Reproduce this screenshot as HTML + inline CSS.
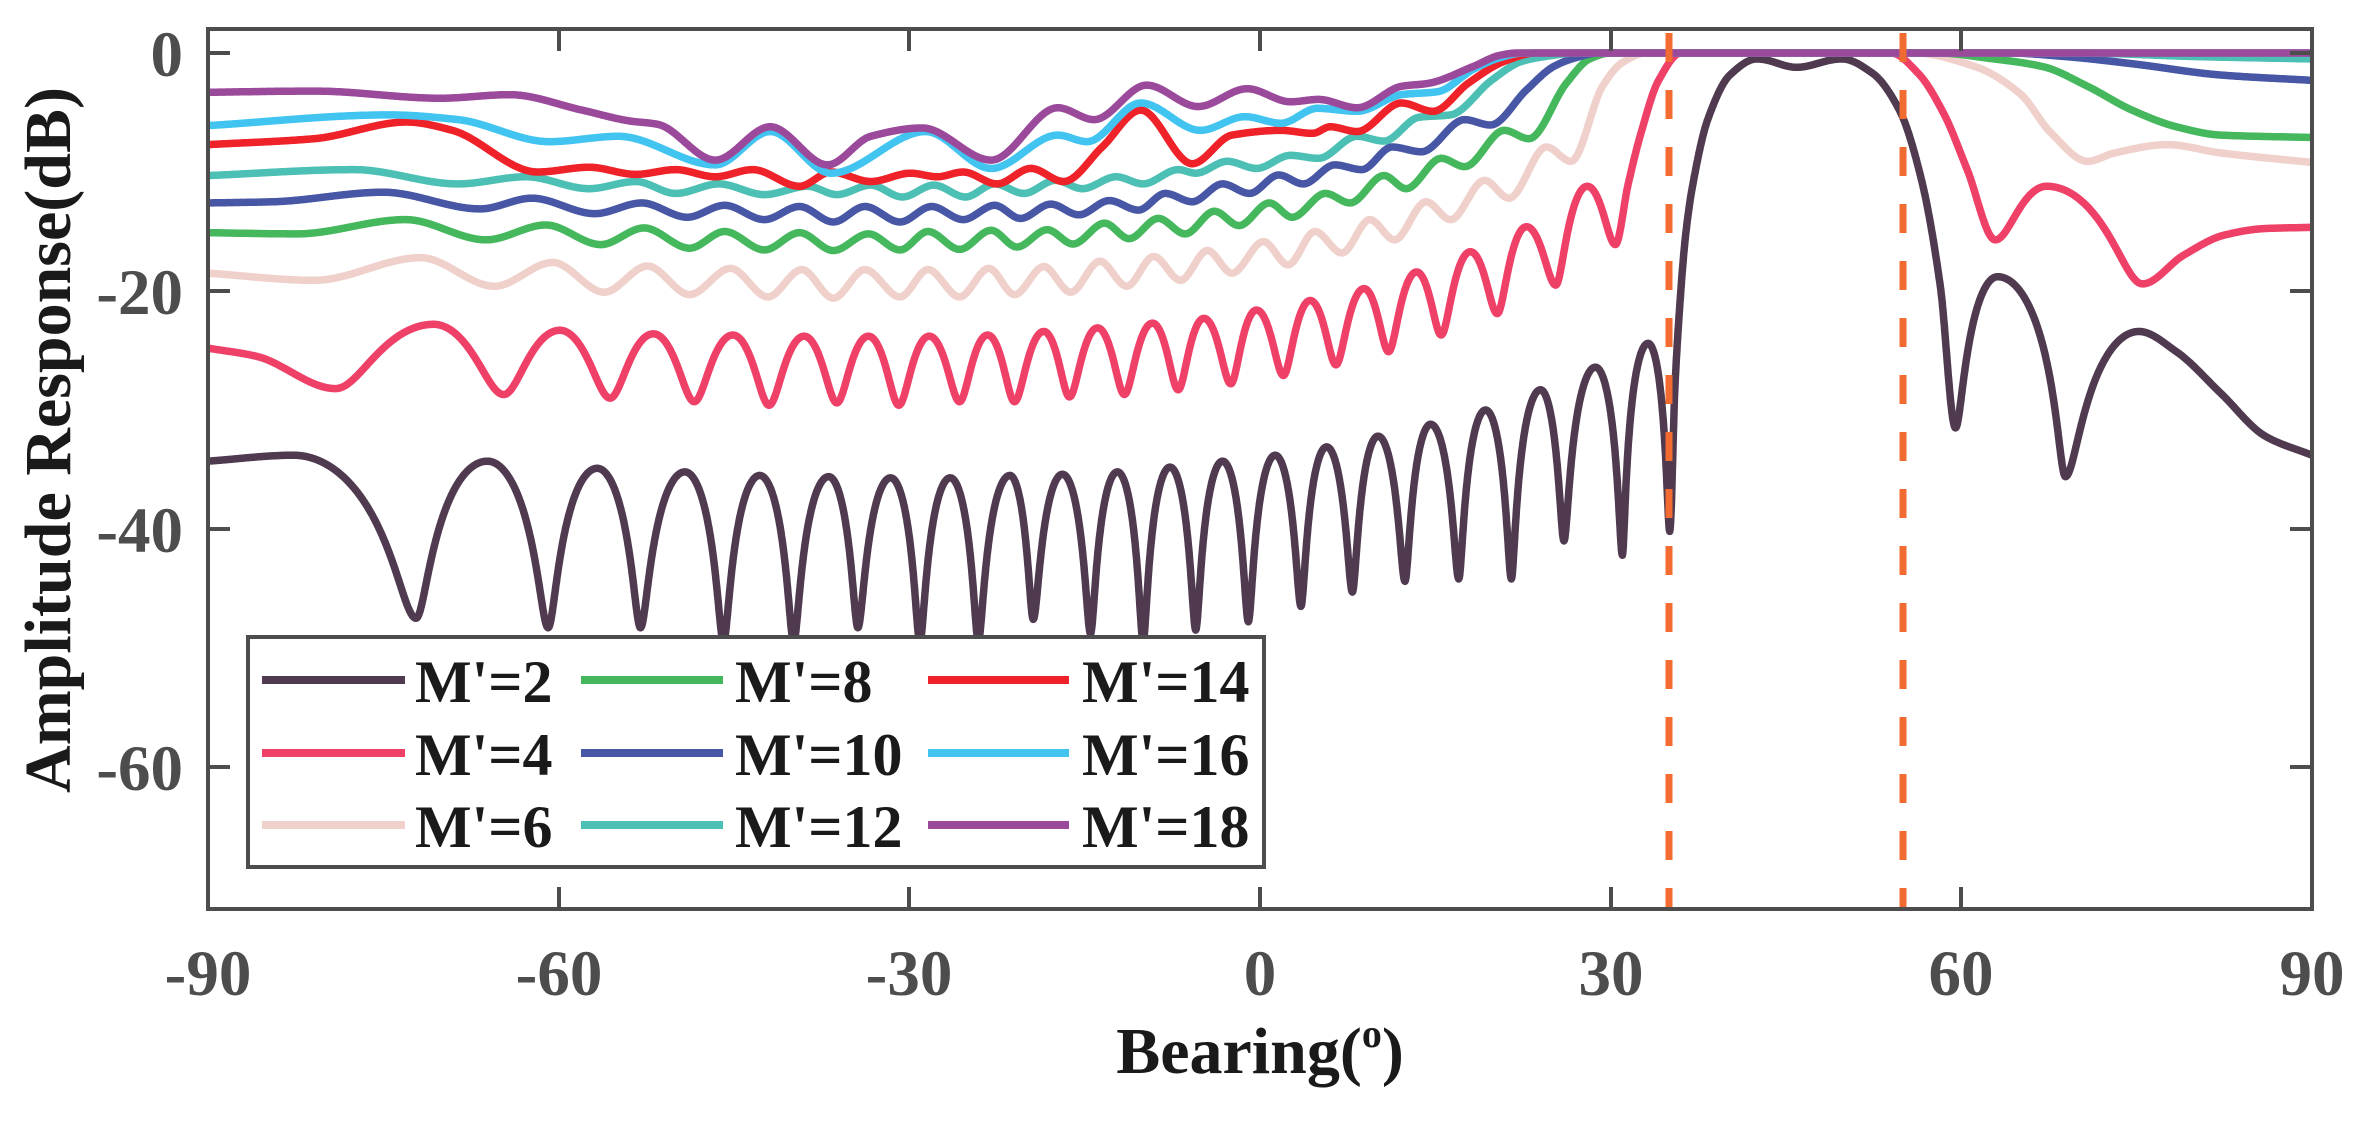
<!DOCTYPE html>
<html><head><meta charset="utf-8"><style>
html,body{margin:0;padding:0;background:#fff;}
svg{display:block;}
</style></head><body>
<svg id="s" width="2379" height="1130" viewBox="0 0 2379 1130" xmlns="http://www.w3.org/2000/svg">
<rect width="2379" height="1130" fill="#fff"/>
<defs><clipPath id="cp"><rect x="208" y="29" width="2104" height="880"/></clipPath></defs>
<g id="curves" clip-path="url(#cp)"></g>
<g stroke="#f26b30" stroke-width="7" stroke-dasharray="29 28">
<line x1="1669" y1="33" x2="1669" y2="909"/>
<line x1="1903" y1="33" x2="1903" y2="909"/>
</g>
<g fill="none" stroke="#4d4d4d" stroke-width="4">
<rect x="208" y="29" width="2104" height="880"/>
<path d="M208 53h22M208 291h22M208 529h22M208 767h22M2312 53h-22M2312 291h-22M2312 529h-22M2312 767h-22"/>
<path d="M208 909v-22M559 909v-22M909 909v-22M1260 909v-22M1611 909v-22M1961 909v-22M2312 909v-22M208 29v22M559 29v22M909 29v22M1260 29v22M1611 29v22M1961 29v22M2312 29v22"/>
</g>
<g font-family="Liberation Serif, serif" font-weight="bold" font-size="65" fill="#4d4d4d">
<g text-anchor="end">
<text x="183" y="76">0</text>
<text x="183" y="314">-20</text>
<text x="183" y="552">-40</text>
<text x="183" y="790">-60</text>
</g>
<g text-anchor="middle">
<text x="208" y="995">-90</text>
<text x="559" y="995">-60</text>
<text x="909" y="995">-30</text>
<text x="1260" y="995">0</text>
<text x="1611" y="995">30</text>
<text x="1961" y="995">60</text>
<text x="2312" y="995">90</text>
</g>
</g>
<text x="1260" y="1073" text-anchor="middle" font-family="Liberation Serif, serif" font-weight="bold" font-size="66" fill="#1a1a1a">Bearing(<tspan font-size="40" dy="-26">o</tspan><tspan dy="26">)</tspan></text>
<text transform="translate(70,440) rotate(-90)" text-anchor="middle" font-family="Liberation Serif, serif" font-weight="bold" font-size="66" fill="#1a1a1a">Amplitude Response(dB)</text>
<g id="legend">
<rect x="248" y="637" width="1016" height="230" fill="#fff" stroke="#4d4d4d" stroke-width="4"/>
<g stroke-width="8">
<line x1="262" y1="680" x2="405" y2="680" stroke="#503a50"/>
<line x1="262" y1="753" x2="405" y2="753" stroke="#ef4068"/>
<line x1="262" y1="825" x2="405" y2="825" stroke="#f0d0cb"/>
<line x1="581" y1="680" x2="723" y2="680" stroke="#45b85e"/>
<line x1="581" y1="753" x2="723" y2="753" stroke="#4757a5"/>
<line x1="581" y1="825" x2="723" y2="825" stroke="#4cc0b5"/>
<line x1="928" y1="680" x2="1069" y2="680" stroke="#ee2228"/>
<line x1="928" y1="753" x2="1069" y2="753" stroke="#41c4f0"/>
<line x1="928" y1="825" x2="1069" y2="825" stroke="#9b4a9b"/>
</g>
<g font-family="Liberation Serif, serif" font-weight="bold" font-size="60" fill="#1a1a1a">
<text x="415" y="702">M'=2</text>
<text x="415" y="775">M'=4</text>
<text x="415" y="847">M'=6</text>
<text x="735" y="702">M'=8</text>
<text x="735" y="775">M'=10</text>
<text x="735" y="847">M'=12</text>
<text x="1082" y="702">M'=14</text>
<text x="1082" y="775">M'=16</text>
<text x="1082" y="847">M'=18</text>
</g>
</g>
</svg>
<script>
(function(){
function X(d){return 208+(d+90)*11.689;}
function Y(v){return 53-v*11.9;}
function parse(s){return s.trim().split(/\s+/).map(function(t){var ty=t[0];var a=t.slice(2,-1).split(',');return [parseFloat(a[0]),parseFloat(a[1]),ty];});}
function build(pts,sharp){
  var n=pts.length,m=[];
  for(var i=0;i<n;i++){
    var t=pts[i][2];
    if(t==='p'||t==='n'){m.push(0);continue;}
    var dl=i>0?(pts[i][1]-pts[i-1][1])/(pts[i][0]-pts[i-1][0]):null;
    var dr=i<n-1?(pts[i+1][1]-pts[i][1])/(pts[i+1][0]-pts[i][0]):null;
    if(dl===null)m.push(dr);else if(dr===null)m.push(dl);
    else if(dl*dr<=0)m.push(0);else m.push(2/(1/dl+1/dr));
  }
  var out=[];
  for(var i=0;i<n-1;i++){
    var a=pts[i],b=pts[i+1],h=b[0]-a[0];
    var steps=Math.max(2,Math.ceil(h/0.04));
    var lobe=sharp&&((a[2]==='p'&&b[2]==='n')||(a[2]==='n'&&b[2]==='p'));
    for(var k=(i===0?0:1);k<=steps;k++){
      var s=k/steps,x=a[0]+h*s,v;
      if(lobe){
        var P,N,t;
        if(a[2]==='p'){P=a[1];N=b[1];t=s;}else{P=b[1];N=a[1];t=1-s;}
        var r=Math.pow(10,(N-P)/10),f2=r/(1-r);
        var c=Math.cos(Math.PI*t/2);
        v=P+10*Math.log10((c*c+f2)/(1+f2));
      }else{
        var s2=s*s,s3=s2*s;
        v=(2*s3-3*s2+1)*a[1]+(s3-2*s2+s)*h*m[i]+(-2*s3+3*s2)*b[1]+(s3-s2)*h*m[i+1];
      }
      out.push(X(x).toFixed(1)+','+Y(v).toFixed(1));
    }
  }
  return 'M'+out.join('L');
}
var S=[
['#503a50',true,"k(-90,-34.3) p(-82.7,-33.8) n(-72.2,-47.5) p(-66.1,-34.3) n(-60.9,-48.3) p(-56.7,-34.9) n(-53,-48.3) p(-49.2,-35.2) n(-45.9,-49.5) p(-42.8,-35.5) n(-39.9,-49.5) p(-36.9,-35.6) n(-34.4,-48.3) p(-31.6,-35.7) n(-29.1,-49.5) p(-26.5,-35.7) n(-24.1,-49.4) p(-21.4,-35.5) n(-19.4,-47.6) p(-16.9,-35.4) n(-14.5,-48.8) p(-12.2,-35.2) n(-10,-49.4) p(-7.7,-34.8) n(-5.5,-48.5) p(-3.2,-34.3) n(-1,-47.8) p(1.3,-33.8) n(3.5,-46.5) p(5.7,-33.1) n(7.9,-45.3) p(10.1,-32.2) n(12.4,-44.4) p(14.6,-31.2) n(17,-44.2) p(19.3,-30) n(21.5,-44.2) p(24,-28.3) n(26,-41) p(28.7,-26.4) n(31,-42.2) p(33.2,-24.4) n(35.05,-40.2) k(35.5,-28) k(36,-20) k(36.4,-15.4) k(37,-11.2) k(38.3,-5.6) k(40.2,-1.85) p(42.5,-0.5) n(45.9,-1.2) p(49.8,-0.5) k(52.4,-1.7) k(54.7,-4.8) k(56.6,-10.7) k(58.2,-19.6) n(59.5,-31.5) p(63.1,-18.8) n(68.9,-35.6) p(75.2,-23.4) k(78.4,-25.1) k(82.2,-28.6) k(86,-32.2) k(90,-33.8)"],
['#ef4068',true,"k(-90,-24.8) k(-85.8,-25.5) n(-79.1,-28.2) p(-70.7,-22.8) n(-64.7,-28.7) p(-59.9,-23.3) n(-55.6,-29) p(-51.9,-23.6) n(-48.4,-29.3) p(-45.1,-23.7) n(-42,-29.6) p(-39,-23.8) n(-36.2,-29.4) p(-33.5,-23.8) n(-30.9,-29.6) p(-28.3,-23.8) n(-25.7,-29.3) p(-23.3,-23.7) n(-21,-29.3) p(-18.5,-23.4) n(-16.3,-28.9) p(-13.9,-23.1) n(-11.6,-28.7) p(-9.2,-22.7) n(-7,-28.3) p(-4.8,-22.3) n(-2.5,-27.8) p(-0.3,-21.6) n(2,-27.1) p(4.3,-20.8) n(6.5,-26.2) p(8.9,-19.8) n(11,-25.1) p(13.4,-18.4) n(15.5,-23.7) p(18,-16.7) n(20.3,-21.9) p(22.8,-14.6) n(25.3,-19.5) p(28,-11.2) n(30.4,-16.1) k(31.5,-11) k(32.6,-6.7) k(34.1,-2.3) p(36,0) p(54,0) k(56.3,-1.7) k(58.5,-5.1) k(60.5,-9.8) n(62.9,-15.7) p(67.3,-11.2) n(75.5,-19.4) k(79,-17) k(82.5,-15.3) k(86,-14.75) k(90,-14.65)"],
['#f0d0cb',false,"k(-90,-18.5) n(-80.9,-19.1) p(-71.8,-17.2) n(-65.5,-19.6) p(-60.5,-17.6) n(-56.1,-20.1) p(-52.4,-17.9) n(-48.8,-20.3) p(-45.3,-18.1) n(-42.1,-20.5) p(-39.2,-18.2) n(-36.5,-20.6) p(-33.8,-18.2) n(-30.8,-20.5) p(-28.4,-18.2) n(-25.7,-20.5) p(-23.2,-18.1) n(-21,-20.3) p(-18.5,-17.95) n(-16.2,-20.1) p(-13.7,-17.5) n(-11.4,-19.6) p(-9.1,-17.1) n(-6.8,-19.1) p(-4.5,-16.6) n(-2.4,-18.5) p(0.3,-15.85) n(2.4,-17.8) p(4.7,-15) n(7,-16.8) p(9.4,-14) n(11.5,-15.7) p(14.2,-12.5) n(16.3,-14.0) p(19.2,-10.7) n(21.3,-12.2) p(24.5,-7.9) n(26.6,-9.1) k(29.3,-2.8) k(31,-0.8) p(33,0) p(56,0) k(61.2,-1.15) k(65,-3.4) k(67.7,-6.75) n(70.8,-9.1) k(73.1,-8.4) p(77.6,-7.7) k(82.2,-8.4) k(90,-9.2)"],
['#45b85e',false,"k(-90,-15.1) n(-82.4,-15.2) p(-73.1,-14.0) n(-66.2,-15.7) p(-61.1,-14.45) n(-56.4,-16.1) p(-52.7,-14.7) n(-48.8,-16.4) p(-45.8,-15) n(-42.4,-16.55) p(-39.4,-15.1) n(-36.5,-16.6) p(-33.5,-15.2) n(-30.8,-16.55) p(-28.4,-15) n(-25.7,-16.5) p(-23,-14.9) n(-20.8,-16.3) p(-18.2,-14.85) n(-16,-16.05) p(-13.3,-14.3) n(-11.2,-15.6) p(-8.7,-13.9) n(-6.4,-15.2) p(-3.9,-13.3) n(-1.8,-14.5) p(0.8,-12.6) n(2.75,-13.8) p(5.6,-11.8) n(7.7,-12.6) p(10.6,-10.3) n(12.5,-11.4) p(15.5,-8.85) n(17.5,-9.55) p(20.9,-6.5) n(23,-7.2) k(26.2,-2.55) k(28.2,-0.5) p(30,0) p(58,0) k(62.4,-0.45) k(67,-1.15) k(70.8,-2.8) k(74.6,-4.8) k(78.4,-6.2) k(82.2,-6.9) k(90,-7.1)"],
['#4757a5',false,"k(-90,-12.6) k(-84.4,-12.5) p(-75,-11.7) n(-66.7,-13.1) p(-62.3,-12.2) n(-56.9,-13.5) p(-52.9,-12.6) n(-49,-13.8) p(-45.8,-12.8) n(-42.4,-14) p(-39.4,-12.9) n(-36.5,-14.2) p(-33.8,-12.9) n(-30.8,-14.2) p(-28.1,-12.9) n(-25.4,-14) p(-22.7,-12.8) n(-20.5,-13.9) p(-17.9,-12.7) n(-15.5,-13.6) p(-12.9,-12.4) n(-10.4,-13.2) p(-8.1,-11.8) n(-5.8,-12.5) p(-3.2,-11) n(-0.9,-11.8) p(1.6,-10.25) n(3.7,-11) p(6.4,-9.4) n(8.7,-9.8) p(11.3,-7.9) n(13.8,-8.3) p(17.5,-5.6) n(19.7,-6.05) k(22.8,-3.1) k(25.1,-1.15) k(27,-0.4) p(29,0) p(64,0) k(68.9,-0.3) k(74.6,-0.9) k(82.2,-1.85) k(90,-2.3)"],
['#4cc0b5',false,"k(-90,-10.3) p(-77.5,-9.8) n(-68.6,-11) p(-62.8,-10.4) n(-57.4,-11.4) p(-53.4,-10.8) n(-50,-11.8) p(-46.3,-11) n(-42.4,-11.9) p(-38.7,-11.2) n(-36.2,-11.9) p(-33.3,-11.1) n(-30.6,-12.1) p(-27.9,-11.1) n(-25.2,-12.1) p(-22.7,-11) n(-20.2,-11.8) p(-17.5,-10.7) n(-15.2,-11.4) p(-12.3,-10.4) n(-10,-11) p(-7,-9.8) n(-5.5,-10.1) p(-2.8,-9.1) n(-0.3,-9.7) p(2.6,-8.6) n(5,-8.85) p(8.3,-7.0) n(10.6,-7.4) k(13.6,-5.4) k(16.3,-5.2) k(19.8,-2.3) k(22.4,-0.7) k(24.7,-0.25) p(27,0) p(70,0) k(80,-0.3) k(90,-0.5)"],
['#ee2228',false,"k(-90,-7.7) k(-80.9,-7.2) p(-73,-5.8) k(-69.1,-6.5) n(-61.8,-10) p(-57.4,-9.6) n(-53.4,-10.2) p(-50,-9.8) n(-46.6,-10.4) p(-43.4,-9.8) n(-39.4,-11.2) p(-36.7,-10) n(-33.3,-10.8) p(-29.9,-10.1) n(-27.6,-10.4) p(-25.4,-10) n(-22.5,-11) p(-19.6,-9.7) n(-16.8,-10.8) k(-13.5,-7.9) p(-10.2,-4.8) n(-5.8,-9.3) k(-2.4,-6.9) p(1.8,-6.5) n(4.5,-6.75) p(6,-6.2) n(8.3,-6.6) p(12.1,-4.2) n(14.8,-4.9) k(17.8,-2.55) k(20.9,-0.7) p(23.6,0) k(90,0)"],
['#41c4f0',false,"k(-90,-6.1) p(-74.5,-5.2) k(-68.6,-5.6) n(-60.8,-7.45) p(-54.9,-7.0) n(-46.6,-9.4) p(-41.9,-6.6) n(-36.7,-10.1) p(-28.6,-6.6) n(-23,-9.7) p(-17.3,-6.9) n(-14.8,-7.45) p(-10.2,-4.2) n(-5.1,-6.5) p(-1.3,-5.35) n(1.8,-5.9) p(4.9,-4.65) n(8.3,-4.9) k(12.1,-3.5) k(15.2,-3.25) k(18.2,-1.4) k(20.5,-0.4) p(22.5,0) k(90,0)"],
['#9b4a9b',false,"k(-90,-3.3) p(-80.9,-3.2) n(-70.1,-3.8) p(-64.2,-3.5) k(-58,-4.8) k(-54,-5.7) k(-51.5,-6.0) n(-46.6,-9.0) p(-41.9,-6.2) n(-37,-9.4) k(-33.3,-7.0) p(-28.9,-6.3) n(-23,-9.0) p(-17.3,-4.6) n(-14.2,-5.6) p(-9.7,-2.7) n(-5.3,-4.5) p(-1.1,-3.0) n(2.6,-4.1) p(5,-3.9) n(8.3,-4.6) k(12.1,-2.8) k(14.4,-2.55) k(18.2,-1.15) k(20.5,-0.2) p(22,0) k(90,0)"]
];
var g=document.getElementById('curves'),NS='http://www.w3.org/2000/svg';
S.forEach(function(s){
  var p=document.createElementNS(NS,'path');
  p.setAttribute('d',build(parse(s[2]),s[1]));
  p.setAttribute('fill','none');p.setAttribute('stroke',s[0]);
  p.setAttribute('stroke-width','7.5');p.setAttribute('stroke-linejoin','round');
  g.appendChild(p);
});
})();
</script>
</body></html>
